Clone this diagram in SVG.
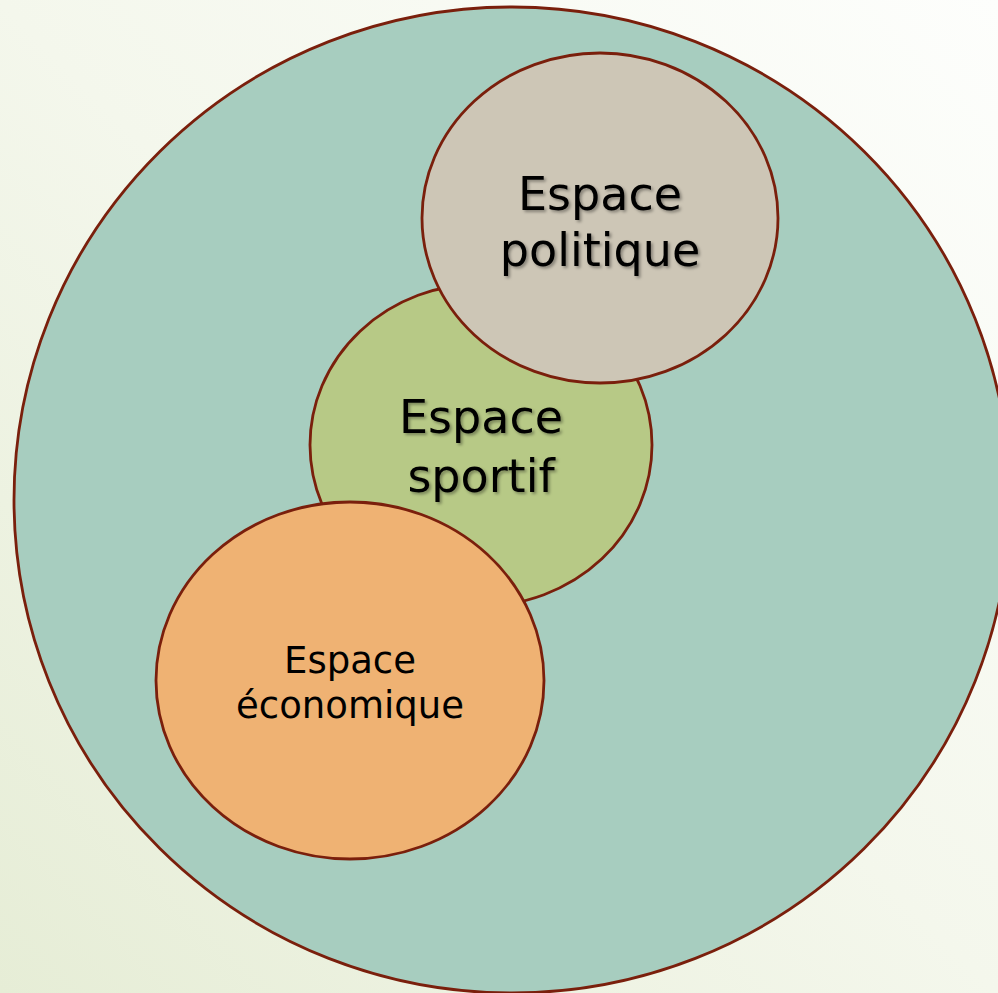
<svg xmlns="http://www.w3.org/2000/svg" width="998" height="993" viewBox="0 0 998 993">
<defs>
<linearGradient id="bg" x1="0" y1="1" x2="1" y2="0">
<stop offset="0" stop-color="#e6edd6"/>
<stop offset="0.5" stop-color="#f4f7ec"/>
<stop offset="1" stop-color="#fdfefc"/>
</linearGradient>
<filter id="sh" x="-10%" y="-10%" width="120%" height="130%">
<feDropShadow dx="2" dy="2" stdDeviation="1.5" flood-color="#000" flood-opacity="0.35"/>
</filter>
</defs>
<style>
.c{stroke:#7a1f0c;stroke-width:2.8}
.t{font-family:"DejaVu Sans","Liberation Sans",sans-serif;fill:#000;text-anchor:middle}
.big{font-size:46px;filter:url(#sh)}
.small{font-size:37px}
</style>
<rect width="998" height="993" fill="url(#bg)"/>
<g id="espace-global">
<ellipse class="c" cx="512" cy="500" rx="498" ry="493" fill="#a7cdbf"/>
</g>
<g id="connectors"/>
<g id="espace-sportif">
<ellipse class="c" cx="481" cy="445" rx="171" ry="161" fill="#b7c986"/>
<text class="t big" x="481" y="433">Espace</text>
<text class="t big" x="481" y="492">sportif</text>
</g>
<g id="espace-politique">
<ellipse class="c" cx="600" cy="218" rx="178" ry="165" fill="#cdc6b6"/>
<text class="t big" x="600" y="210">Espace</text>
<text class="t big" x="600" y="266">politique</text>
</g>
<g id="espace-economique">
<ellipse class="c" cx="350" cy="680.5" rx="194" ry="178.5" fill="#efb273"/>
<text class="t small" x="350" y="673">Espace</text>
<text class="t small" x="350" y="718">économique</text>
</g>
</svg>
